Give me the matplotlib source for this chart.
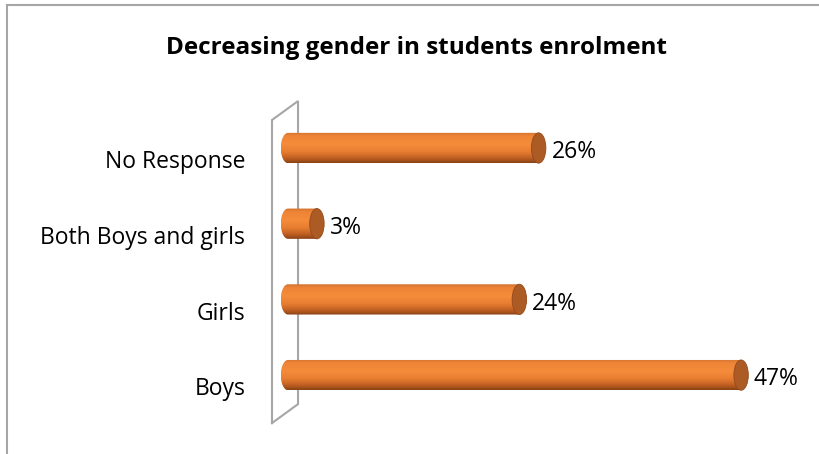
import numpy as np
import matplotlib
matplotlib.use("Agg")
import matplotlib.pyplot as plt
from matplotlib.lines import Line2D
from matplotlib.patches import Ellipse, PathPatch
from matplotlib.path import Path
from matplotlib.colors import LinearSegmentedColormap

plt.rcParams['font.family'] = ['Open Sans', 'DejaVu Sans']

categories = ['Boys', 'Girls', 'Both Boys and girls', 'No Response']
values = [47, 24, 3, 26]
labels = ['47%', '24%', '3%', '26%']
title = 'Decreasing gender in students enrolment'

fig = plt.figure(figsize=(8.19, 4.54), dpi=100)
W, H = 819, 454

# axes placed so that 0% sits just right of the side wall
x0_px, px_per = 288, 9.64
xmin, xmax = -3, 50
ax_left = x0_px + xmin * px_per
ax_right = x0_px + xmax * px_per
y_top_px, y_step = 148, 75.7
ymin, ymax = -0.75, 3.75
ax_top = y_top_px - (ymax - 3) * y_step
ax_bot = y_top_px + (3 - ymin) * y_step
ax = fig.add_axes([ax_left / W, 1 - ax_bot / H, (ax_right - ax_left) / W, (ax_bot - ax_top) / H])
ax.set_xlim(xmin, xmax)
ax.set_ylim(ymin, ymax)
for s in ax.spines.values():
    s.set_visible(False)
ax.set_xticks([])

ypos = np.arange(len(categories))
ax.set_yticks(ypos - 0.15)
ax.set_yticklabels(categories, fontsize=16.5)
ax.tick_params(axis='y', length=0, pad=10)

# side wall (thin 3D plane behind the bars)
wall_c = '#A6A6A6'
fx, bx = -1.66, 1.04
ft, bt = 3.37, 3.62
fb, bb = -0.634, -0.383
ax.add_line(Line2D([fx, fx, bx, bx, fx], [fb, ft, bt, bb, fb], color=wall_c, lw=1.5,
                   clip_on=False, zorder=1, solid_joinstyle='miter'))

# cylinder shading, top to bottom
shade = LinearSegmentedColormap.from_list('cyl', [
    (0.0, '#D0722F'), (0.12, '#EE8436'), (0.4, '#F58C3B'),
    (0.65, '#E67C30'), (0.85, '#BE5E22'), (1.0, '#874215')])
grad = np.linspace(0, 1, 128).reshape(-1, 1)

bar_h = 0.40
cap_w = 0.75
for y, v, lab in zip(ypos, values, labels):
    top, bot = y + bar_h / 2, y - bar_h / 2
    t = np.linspace(np.pi / 2, 3 * np.pi / 2, 40)
    left_x = cap_w * np.cos(t)
    left_y = y + bar_h / 2 * np.sin(t)
    verts = list(zip(left_x, left_y)) + [(v, bot), (v, top), (left_x[0], left_y[0])]
    body = Path(verts)
    clip = PathPatch(body, facecolor='none', edgecolor='none')
    ax.add_patch(clip)
    im = ax.imshow(grad, cmap=shade, aspect='auto', extent=(-cap_w, v, bot, top),
                   origin='upper', zorder=3, interpolation='bilinear')
    im.set_clip_path(clip)
    ax.add_patch(Ellipse((v, y), 2 * cap_w, bar_h, facecolor='#AD5B25',
                         edgecolor='#94491B', lw=0.6, zorder=4))
    ax.annotate(lab, (v + cap_w, y), xytext=(4, -3), textcoords='offset points',
                ha='left', va='center', fontsize=16.5, color='#000000')

ax.set_xlim(xmin, xmax)
ax.set_ylim(ymin, ymax)

fig.text(417 / W, 1 - 48 / H, title, ha='center', va='center', fontsize=17.5,
         fontweight='bold')

# chart area border
bc = '#A6A6A6'
fig.add_artist(Line2D([7 / W, 7 / W], [0, 1 - 5 / H], color=bc, lw=1.5))
fig.add_artist(Line2D([7 / W, 1], [1 - 5 / H, 1 - 5 / H], color=bc, lw=1.5))

fig.savefig('out.png', dpi=100)
